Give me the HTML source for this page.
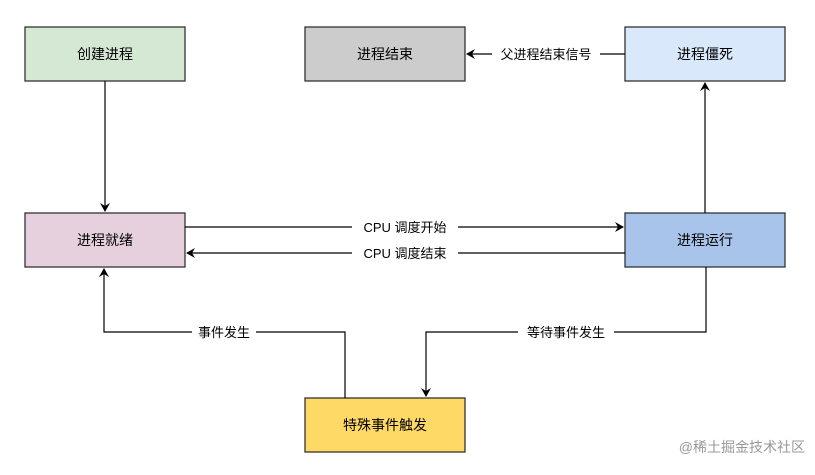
<!DOCTYPE html>
<html><head><meta charset="utf-8"><style>
html,body{margin:0;padding:0;background:#fff;}
svg{display:block;}
text{font-family:"Liberation Sans","Noto Sans CJK SC",sans-serif;}
</style></head><body>
<svg width="815" height="475" viewBox="0 0 815 475" xmlns="http://www.w3.org/2000/svg">
<defs><marker id="a" markerWidth="10" markerHeight="10" refX="8" refY="5" orient="auto" markerUnits="userSpaceOnUse"><path d="M0,0 L9,5 L0,10 L3,5 Z" fill="#000"/></marker></defs>
<g stroke="#333" stroke-width="1.3">
<rect x="25" y="27" width="160" height="54" fill="#d5e8d4"/>
<rect x="305" y="27" width="160" height="54" fill="#cccccc"/>
<rect x="625" y="27" width="160" height="54" fill="#dae8fc"/>
<rect x="25" y="213" width="160" height="54" fill="#e6d0de"/>
<rect x="625" y="213" width="160" height="54" fill="#a9c4eb"/>
<rect x="305" y="398" width="160" height="54" fill="#ffd966"/>
</g>
<g stroke="#000" stroke-width="1.2" fill="none">
<line x1="105" y1="81" x2="105" y2="211" marker-end="url(#a)"/>
<line x1="625" y1="54" x2="467" y2="54" marker-end="url(#a)"/>
<line x1="705" y1="213" x2="705" y2="83" marker-end="url(#a)"/>
<line x1="185" y1="227" x2="623" y2="227" marker-end="url(#a)"/>
<line x1="625" y1="253" x2="187" y2="253" marker-end="url(#a)"/>
<polyline points="345,398 345,332 104,332 104,269" marker-end="url(#a)"/>
<polyline points="706,267 706,332 426,332 426,396" marker-end="url(#a)"/>
</g>
<g font-size="14" text-anchor="middle" fill="#000">
<text x="105" y="59">创建进程</text>
<text x="385" y="59">进程结束</text>
<text x="705" y="59">进程僵死</text>
<text x="105" y="245">进程就绪</text>
<text x="705" y="245">进程运行</text>
<text x="385" y="430">特殊事件触发</text>
</g>
<g font-size="13" text-anchor="middle" fill="#000">
<rect x="492" y="45" width="108" height="18" fill="#fff"/>
<text x="546" y="59">父进程结束信号</text>
<rect x="352" y="218" width="106" height="18" fill="#fff"/>
<text x="405" y="232">CPU 调度开始</text>
<rect x="352" y="244" width="106" height="18" fill="#fff"/>
<text x="405" y="258">CPU 调度结束</text>
<rect x="192" y="323" width="64" height="18" fill="#fff"/>
<text x="224" y="337">事件发生</text>
<rect x="518" y="323" width="96" height="18" fill="#fff"/>
<text x="566" y="337">等待事件发生</text>
</g>
<text x="805" y="452" font-size="14" text-anchor="end" fill="#999">@稀土掘金技术社区</text>
</svg>
</body></html>
